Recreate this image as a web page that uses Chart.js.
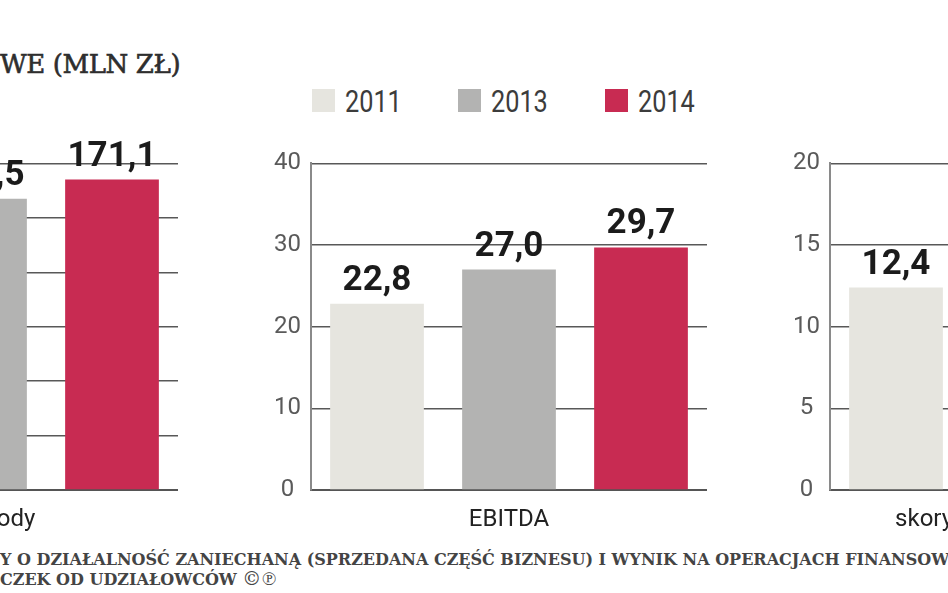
<!DOCTYPE html>
<html>
<head>
<meta charset="utf-8">
<script src="https://cdn.jsdelivr.net/npm/chart.js@4"></script>
<style>
  html, body { margin: 0; padding: 0; background: #ffffff; }
  #stage { position: relative; width: 948px; height: 593px; overflow: hidden; background: #ffffff; }
  canvas { position: absolute; }
  .txt { position: absolute; white-space: nowrap; line-height: 1; }
  #title { font-family: 'DejaVu Serif', serif; font-weight: normal; font-size: 26px; letter-spacing: -0.4px; -webkit-text-stroke: 0.6px #2e2e2e; color: #2e2e2e; left: 0px; top: 51px; }
  .foot { font-family: 'DejaVu Serif', serif; font-weight: bold; font-size: 16px; color: #444444; left: 0px; }
  .sym { font-size: 19px; font-weight: normal; letter-spacing: 0.5px; }
  .lg-box { position: absolute; width: 23px; height: 23px; }
  .lg-txt { position: absolute; font-family: Roboto, sans-serif; font-size: 32px; color: #3c3c3c; line-height: 1; white-space: nowrap; transform: scaleX(0.79); transform-origin: 0 0; }
</style>
</head>
<body>
<div id="stage">
  <div id="title" class="txt">WE (MLN ZŁ)</div>
  <div id="legend"></div>
  <canvas id="cLeft" width="456" height="396" style="left:-278px; top:139px;"></canvas>
  <canvas id="cMid" width="456" height="396" style="left:251px; top:139px;"></canvas>
  <canvas id="cRight" width="456" height="396" style="left:770px; top:139px;"></canvas>
  <div class="txt foot" style="top:552px;">Y O DZIAŁALNOŚĆ ZANIECHANĄ (SPRZEDANA CZĘŚĆ BIZNESU) I WYNIK NA OPERACJACH FINANSOW</div>
  <div class="txt foot" style="top:569px;">CZEK OD UDZIAŁOWCÓW <span class="sym">©℗</span></div>
</div>
<script>
// ---- data ----
const years = ['2011', '2013', '2014'];
const revenueLabel = ['Przychody'];
const revenue = [152.0, 160.5, 171.1];
const revenueTicks = [0, 30, 60, 90, 120, 150, 180];
const ebitdaLabel = ['EBITDA'];
const ebitda = [22.8, 27.0, 29.7];
const ebitdaTicks = [0, 10, 20, 30, 40];
const netLabel = ['skorygowany zysk netto*'];
const netProfit = [12.4, 14.1, 15.8];
const netTicks = [0, 5, 10, 15, 20];

// ---- styles ----
const barColors = ['#e6e5df', '#b3b3b2', '#c82b52'];
const legendPos = [312, 458, 605];

// legend (HTML)
const lg = document.getElementById('legend');
years.forEach((y, i) => {
  const b = document.createElement('div');
  b.className = 'lg-box';
  b.style.left = legendPos[i] + 'px';
  b.style.top = '89px';
  b.style.background = barColors[i];
  lg.appendChild(b);
  const t = document.createElement('div');
  t.className = 'lg-txt';
  t.style.left = (legendPos[i] + 33) + 'px';
  t.style.top = '85px';
  t.textContent = y;
  lg.appendChild(t);
});

const valueLabels = {
  id: 'valueLabels',
  afterDatasetsDraw(chart) {
    const ctx = chart.ctx;
    chart.data.datasets.forEach((ds, i) => {
      const meta = chart.getDatasetMeta(i);
      meta.data.forEach((bar, j) => {
        const v = ds.data[j];
        ctx.save();
        ctx.font = 'bold 35px Roboto';
        ctx.fillStyle = '#1b1b1b';
        ctx.textAlign = 'center';
        ctx.textBaseline = 'alphabetic';
        ctx.fillText(v.toFixed(1).replace('.', ','), bar.x, bar.y - 14);
        ctx.restore();
      });
    });
  }
};

function makeChart(id, category, values, ticks) {
  const step = ticks[1] - ticks[0];
  new Chart(document.getElementById(id), {
    type: 'bar',
    data: {
      labels: category,
      datasets: years.map((y, i) => ({
        label: y,
        data: [values[i]],
        backgroundColor: barColors[i],
        borderWidth: 0,
        categoryPercentage: 1.0,
        barPercentage: 0.71
      }))
    },
    options: {
      responsive: false,
      animation: false,
      devicePixelRatio: 1,
      layout: { padding: { top: 20, right: 0, left: 0, bottom: 0 } },
      plugins: { legend: { display: false }, tooltip: { enabled: false } },
      scales: {
        x: {
          grid: { display: false, drawTicks: false },
          border: { display: true, color: '#555555', width: 2 },
          ticks: { font: { family: 'Roboto', size: 24 }, color: '#222222', padding: 16, maxRotation: 0, autoSkip: false },
          afterFit: (s) => { s.height = 45; }
        },
        y: {
          min: ticks[0],
          max: ticks[ticks.length - 1],
          grid: { color: '#585858', lineWidth: 1.5, drawTicks: false },
          border: { display: true, color: '#8a8a8a', width: 2 },
          ticks: {
            stepSize: step,
            font: { family: 'Roboto', size: 24 },
            color: '#5a5a5a',
            padding: 10,
            crossAlign: 'center',
            callback: (v) => String(v)
          },
          afterFit: (s) => { s.width = 60; }
        }
      }
    },
    plugins: [valueLabels]
  });
}

makeChart('cLeft', revenueLabel, revenue, revenueTicks);
makeChart('cMid', ebitdaLabel, ebitda, ebitdaTicks);
makeChart('cRight', netLabel, netProfit, netTicks);
</script>
</body>
</html>
